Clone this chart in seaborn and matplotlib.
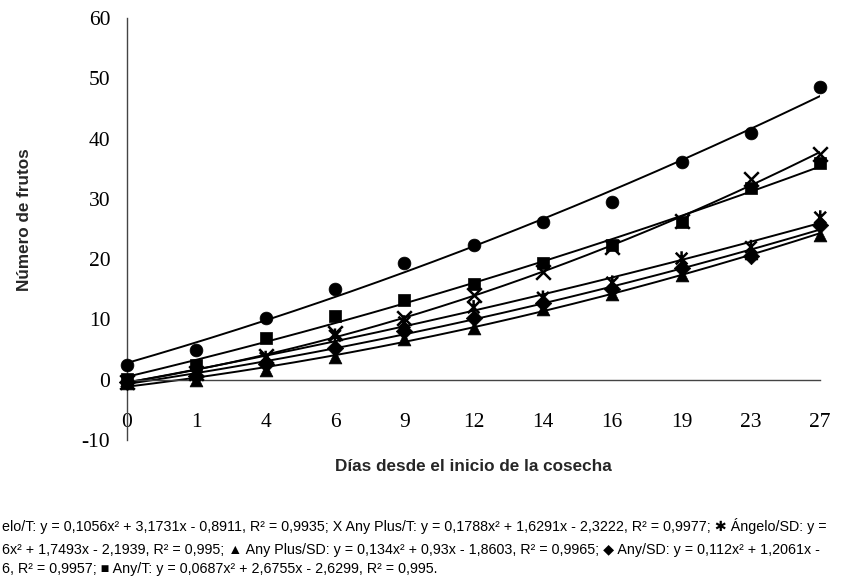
import numpy as np
import pandas as pd
import matplotlib
matplotlib.use("Agg")
import matplotlib.pyplot as plt
import seaborn as sns
from matplotlib import font_manager
from matplotlib.path import Path

dias = ["0", "1", "4", "6", "9", "12", "14", "16", "19", "23", "27"]

angelo_t = [2.5, 5.0, 10.3, 15.0, 19.4, 22.3, 26.2, 29.4, 36.1, 40.9, 48.6]
any_plus_t = [-0.3, 1.2, 4.0, 7.8, 10.3, 14.0, 17.8, 22.0, 26.4, 33.3, 37.5]
angelo_sd = [-0.3, 1.0, 3.6, 7.3, 9.5, 12.0, 13.6, 16.1, 20.1, 22.0, 26.9]
any_plus_sd = [-0.5, -0.1, 1.6, 3.7, 6.8, 8.5, 11.8, 14.3, 17.3, 21.0, 24.0]
any_sd = [-0.3, 0.6, 2.6, 5.3, 8.1, 10.3, 12.8, 15.1, 18.6, 20.6, 25.6]
any_t = [0.1, 2.5, 7.0, 10.5, 13.3, 15.9, 19.4, 22.3, 26.1, 31.8, 36.0]

# star marker like Excel's: an X with a vertical bar
star = Path([(-1, -1), (1, 1), (-1, 1), (1, -1), (0, -1.25), (0, 1.25)],
            [Path.MOVETO, Path.LINETO, Path.MOVETO, Path.LINETO, Path.MOVETO, Path.LINETO])

series = {
    "Ángelo/T": (angelo_t, "o"),
    "Any/T": (any_t, "s"),
    "Any Plus/T": (any_plus_t, "x"),
    "Ángelo/SD": (angelo_sd, star),
    "Any/SD": (any_sd, "D"),
    "Any Plus/SD": (any_plus_sd, "^"),
}

# legend text as it is visible in the reference (left part is cut off there)
leyenda = [
    "elo/T: y = 0,1056x² + 3,1731x - 0,8911, R² = 0,9935; X Any Plus/T: y = 0,1788x² + 1,6291x - 2,3222, R² = 0,9977; ✱ Ángelo/SD: y =",
    "6x² + 1,7493x - 2,1939, R² = 0,995; ▲ Any Plus/SD: y = 0,134x² + 0,93x - 1,8603, R² = 0,9965; ◆ Any/SD: y = 0,112x² + 1,2061x -",
    "6, R² = 0,9957; ■ Any/T: y = 0,0687x² + 2,6755x - 2,6299, R² = 0,995.",
]

sns.set_theme(style="white")
plt.rcParams["font.family"] = ["Liberation Sans", "DejaVu Sans"]

names = {f.name for f in font_manager.fontManager.ttflist}
narrow = "Liberation Sans Narrow" if "Liberation Sans Narrow" in names else "Liberation Sans"

fig = plt.figure(figsize=(8.58, 5.79), dpi=100)
ax = fig.add_axes([0.148, 0.240, 0.808, 0.729])

pos = np.arange(len(dias))

# polynomial trend lines (2nd order, Excel style x = 1..n)
xs = np.linspace(0, len(dias) - 1, 200)
fit_rows = []
for name, (vals, m) in series.items():
    c = np.polyfit(pos + 1, vals, 2)
    for xv in xs:
        fit_rows.append({"serie": name, "x": xv, "y": np.polyval(c, xv + 1)})
fit_df = pd.DataFrame(fit_rows)
sns.lineplot(data=fit_df, x="x", y="y", units="serie", estimator=None,
             color="black", lw=1.4, ax=ax, legend=False, zorder=2)

for name, (vals, m) in series.items():
    if m == "x":
        sns.scatterplot(x=pos, y=vals, marker=m, color="black", s=110,
                        linewidth=1.8, ax=ax, legend=False, clip_on=False, zorder=3)
    elif isinstance(m, Path):
        sns.scatterplot(x=pos, y=vals, marker=m, color="black", s=110,
                        edgecolor="black", facecolor="none",
                        linewidth=1.8, ax=ax, legend=False, clip_on=False, zorder=3)
    else:
        sz = 70 if m in ("s", "D") else 85
        sns.scatterplot(x=pos, y=vals, marker=m, color="black", s=sz,
                        edgecolor="black", linewidth=0.5, ax=ax, legend=False,
                        clip_on=False, zorder=3)

for s in ["top", "right"]:
    ax.spines[s].set_visible(False)
ax.spines["bottom"].set_position(("data", 0))
for s in ["left", "bottom"]:
    ax.spines[s].set_color("#444444")
    ax.spines[s].set_linewidth(1.0)

ax.set_xlim(0, len(dias) - 1)
ax.set_ylim(-10, 60)
ax.set_xticks(pos)
ax.set_xticklabels(dias, fontfamily="Liberation Serif", fontsize=15.5)
ax.set_yticks(range(-10, 61, 10))
ax.set_yticklabels([str(v) for v in range(-10, 61, 10)],
                   fontfamily="Liberation Serif", fontsize=15.5)
ax.tick_params(axis="x", direction="out", length=6, width=1, pad=18, colors="#222222")
ax.tick_params(axis="y", direction="out", length=7, width=1, pad=5, colors="#222222")
for lab in ax.get_xticklabels() + ax.get_yticklabels():
    lab.set_color("black")

ax.set_xlabel("Días desde el inicio de la cosecha", fontsize=12.3,
              fontweight="bold", va="center")
ax.xaxis.set_label_coords(0.5, (579 - 466 - 139) / 422)
ax.set_ylabel("Número de frutos", fontsize=12.3, fontweight="bold", va="center")
ax.yaxis.set_label_coords((25 - 127) / 693, (579 - 220 - 139) / 422)

ys = [526, 550, 569]
for txt, yc in zip(leyenda, ys):
    fig.text(2 / 858, 1 - yc / 579, txt, ha="left", va="center",
             fontsize=10.25, family=[narrow, "DejaVu Sans"], color="black")

fig.savefig("out.png", dpi=100)
